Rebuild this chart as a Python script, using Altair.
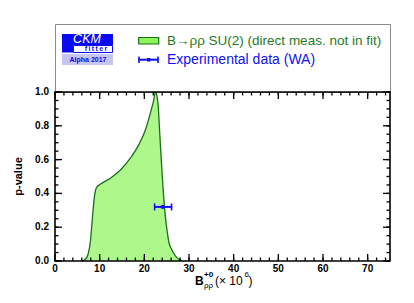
import altair as alt
import pandas as pd

# ---------------- data ----------------
curve_x = [6.0, 6.8, 7.4, 7.9, 8.3, 8.7, 9.0, 9.3, 10.2, 12.4, 14.7, 16.9, 18.8, 20.3,
           21.4, 22.0, 22.5, 22.8, 23.1, 23.4, 23.7, 24.0, 24.3, 24.8, 25.2, 25.5,
           26.1, 26.7, 27.3, 27.8, 28.5]
curve_p = [0.0, 0.01, 0.04, 0.11, 0.23, 0.35, 0.41, 0.435, 0.455, 0.49, 0.54, 0.61, 0.69, 0.78,
           0.88, 0.94, 1.0, 0.98, 0.92, 0.78, 0.64, 0.51, 0.39, 0.24, 0.16, 0.11,
           0.07, 0.04, 0.02, 0.01, 0.0]

exp_center = [24.1]
exp_low = [22.3]
exp_high = [26.1]
exp_p = [0.32]

x_major = [0, 10, 20, 30, 40, 50, 60, 70]
x_minor = [v for v in range(0, 76, 2)]
y_major = [0.0, 0.2, 0.4, 0.6, 0.8, 1.0]
y_minor = [round(i * 0.05, 2) for i in range(0, 21)]
x_labels = ["0", "10", "20", "30", "40", "50", "60", "70"]
y_labels = ["0.0", "0.2", "0.4", "0.6", "0.8", "1.0"]

legend_label_1 = "B\u2192\u03c1\u03c1 SU(2) (direct meas. not in fit)"
legend_label_2 = "Experimental data (WA)"

# ---------------- style ----------------
W, H = 335, 169
LH = 68
FONT = "Liberation Sans"
FILL = "#8cf55a"
LINE = "#1b6e1b"
BLUE = "#1010f5"
GREEN_TXT = "#1f7a1f"
MAJ, MIN = 7, 3.5

df = pd.DataFrame({"x": curve_x, "p": curve_p})
df_exp = pd.DataFrame({"c": exp_center, "lo": exp_low, "hi": exp_high, "p": exp_p})
df_caps = pd.DataFrame({"x": exp_low + exp_high, "p": exp_p * 2})
df_xlab = pd.DataFrame({"v": x_major, "lab": x_labels})
df_ylab = pd.DataFrame({"v": y_major, "lab": y_labels})
one = pd.DataFrame({"a": [0]})

xs = alt.Scale(domain=[0, 75], nice=False, zero=False)
ys = alt.Scale(domain=[0, 1], nice=False, zero=False)

area = alt.Chart(df).mark_area(
    color=FILL, interpolate="monotone", clip=True,
    line={"color": LINE, "strokeWidth": 1.3},
).encode(
    x=alt.X("x:Q", scale=xs, axis=None),
    y=alt.Y("p:Q", scale=ys, axis=None),
)


def xticks(vals, y1, y2):
    return alt.Chart(pd.DataFrame({"v": vals})).mark_rule(color="black", strokeWidth=1.3).encode(
        x=alt.X("v:Q", scale=xs, axis=None), y=alt.value(y1), y2=alt.value(y2))


def yticks(vals, x1, x2):
    return alt.Chart(pd.DataFrame({"v": vals})).mark_rule(color="black", strokeWidth=1.3).encode(
        y=alt.Y("v:Q", scale=ys, axis=None), x=alt.value(x1), x2=alt.value(x2))


ticks = [
    xticks(x_major, H, H - MAJ), xticks(x_minor, H, H - MIN),
    xticks(x_major, 0, MAJ), xticks(x_minor, 0, MIN),
    yticks(y_major, 0, MAJ), yticks(y_minor, 0, MIN),
    yticks(y_major, W, W - MAJ), yticks(y_minor, W, W - MIN),
]

frame = alt.Chart(one).mark_rect(fillOpacity=0, stroke="black", strokeWidth=1.6).encode(
    x=alt.value(0), x2=alt.value(W), y=alt.value(0), y2=alt.value(H))

xlab = alt.Chart(df_xlab).mark_text(
    font=FONT, fontSize=10, fontWeight="bold", color="black", baseline="middle", align="center",
).encode(x=alt.X("v:Q", scale=xs, axis=None), y=alt.value(H + 8), text="lab:N")

ylab = alt.Chart(df_ylab).mark_text(
    font=FONT, fontSize=10, fontWeight="bold", color="black", baseline="middle", align="right",
).encode(y=alt.Y("v:Q", scale=ys, axis=None), x=alt.value(-6), text="lab:N")

err_rule = alt.Chart(df_exp).mark_rule(color=BLUE, strokeWidth=2).encode(
    x=alt.X("lo:Q", scale=xs, axis=None), x2="hi:Q",
    y=alt.Y("p:Q", scale=ys, axis=None))
err_caps = alt.Chart(df_caps).mark_tick(color=BLUE, orient="vertical", size=7, thickness=1.6, opacity=1).encode(
    x=alt.X("x:Q", scale=xs, axis=None), y=alt.Y("p:Q", scale=ys, axis=None))
err_pt = alt.Chart(df_exp).mark_point(color=BLUE, filled=True, size=18, opacity=1).encode(
    x=alt.X("c:Q", scale=xs, axis=None), y=alt.Y("p:Q", scale=ys, axis=None))


def txt(s, x, y, size, weight="normal", color="black", align="left", style="normal", angle=0):
    return alt.Chart(one).mark_text(
        text=s, font=FONT, fontSize=size, fontWeight=weight, color=color,
        align=align, baseline="middle", fontStyle=style, angle=angle,
    ).encode(x=alt.value(x), y=alt.value(y))


titles = [
    txt("p-value", -36, H / 2, 11, "bold", "black", "center", angle=270),
    txt("B", 140, 189, 12, "bold"),
    txt("+0", 149, 183, 8, "bold"),
    txt("\u03c1\u03c1", 149, 194, 8),
    txt("(\u00d7 10", 160, 189, 12),
    txt("6", 189.5, 183, 8),
    txt(")", 193.5, 189, 12),
]

plot = alt.layer(area, *ticks, frame, err_rule, err_caps, err_pt, xlab, ylab, *titles).properties(
    width=W, height=H, view=alt.ViewBackground(strokeOpacity=0))


def box(x1, x2, y1, y2, fill, stroke=None, sw=1):
    kw = dict(fill=fill)
    if stroke is not None:
        kw.update(stroke=stroke, strokeWidth=sw)
    return alt.Chart(one).mark_rect(**kw).encode(
        x=alt.value(x1), x2=alt.value(x2), y=alt.value(y1), y2=alt.value(y2))


def seg(x1, x2, y1, y2, color, sw):
    return alt.Chart(one).mark_rule(color=color, strokeWidth=sw).encode(
        x=alt.value(x1), x2=alt.value(x2), y=alt.value(y1), y2=alt.value(y2))


LOGO = "#0a0af0"
legend_layers = [
    box(7, 58, 10, 21, LOGO),
    box(7, 18, 21, 28.5, LOGO),
    box(18.5, 57.5, 21.5, 28.5, "white", LOGO, 1),
    box(7, 58, 30, 41, "#c6c6f2"),
    txt("CKM", 32, 15.3, 12.5, "normal", "white", "center", "italic"),
    txt("f\u2009i\u2009t\u2009t\u2009e\u2009r", 41, 25.2, 7, "bold", LOGO, "center"),
    txt("Alpha 2017", 33, 36, 7, "bold", LOGO, "center"),
    box(83.7, 103.7, 13.5, 20, FILL, LINE, 1.2),
    txt(legend_label_1, 112, 17, 13.5, "normal", GREEN_TXT),
    seg(83.5, 103.5, 35.7, 35.7, BLUE, 2),
    seg(84, 84, 32.5, 39, BLUE, 1.6),
    seg(103, 103, 32.5, 39, BLUE, 1.6),
    box(92, 95.5, 34, 37.5, BLUE),
    txt(legend_label_2, 112, 35.5, 14, "normal", BLUE),
]
legend_panel = alt.layer(*legend_layers).properties(
    width=W, height=LH, view=alt.ViewBackground(stroke="#8a8a8a", strokeWidth=1))

chart = alt.vconcat(legend_panel, plot, spacing=0, bounds="flush").properties(
    padding={"left": 5, "top": 15, "right": 5, "bottom": 5})

chart.save("out.html", embed_options={"renderer": "svg", "actions": False})
